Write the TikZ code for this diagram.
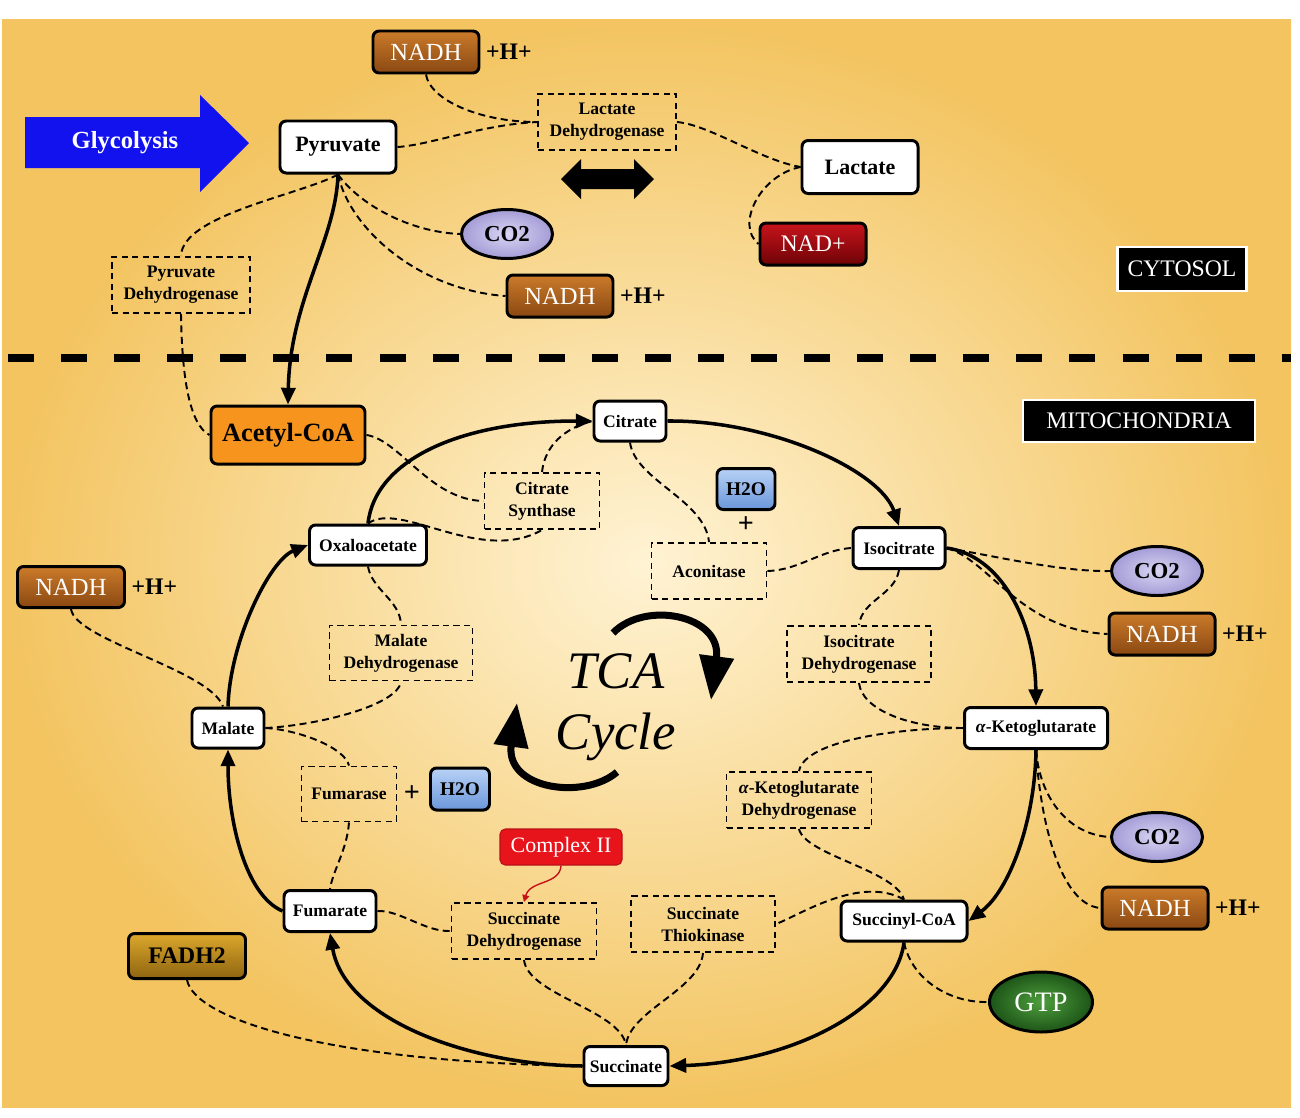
\documentclass[tikz,border=0pt]{standalone}
\usepackage{fontspec}
\setmainfont{Liberation Serif}
\usepackage{tikz}
\usetikzlibrary{shapes.geometric,arrows.meta,positioning}
\definecolor{bgin}{HTML}{FFF3D4}
\definecolor{bgout}{HTML}{F3C460}
\definecolor{glyblue}{HTML}{1212EE}
\definecolor{nadhtop}{HTML}{CB7B2A}
\definecolor{nadhbot}{HTML}{8A4812}
\definecolor{nadtop}{HTML}{C8141C}
\definecolor{nadbot}{HTML}{6E0306}
\definecolor{co2in}{HTML}{D9D5F3}
\definecolor{co2out}{HTML}{A49CD6}
\definecolor{h2otop}{HTML}{B8D2F6}
\definecolor{h2obot}{HTML}{6A96DA}
\definecolor{gtpin}{HTML}{4E9E3C}
\definecolor{gtpout}{HTML}{1D5518}
\definecolor{fadtop}{HTML}{DCA82C}
\definecolor{fadbot}{HTML}{8E6410}
\definecolor{acoafill}{HTML}{F7941D}
\definecolor{cplxred}{HTML}{E8141C}
\newlength\pxu \setlength\pxu{0.2mm}

\begin{document}
\begin{tikzpicture}[x=0.2mm,y=-0.2mm,
  sz/.style 2 args={minimum width=#1\pxu,minimum height=#2\pxu},
  met/.style={draw,line width=1.7pt,rounded corners=3.5pt,fill=white,inner sep=0pt,font=\bfseries\fontsize{10}{12}\selectfont},
  bigmet/.style={met,font=\bfseries\fontsize{12.5}{15}\selectfont},
  enz/.style={draw,line width=1.1pt,dash pattern=on 3.5pt off 2.5pt,inner sep=0pt,align=center,font=\bfseries\fontsize{10}{12.5}\selectfont},
  nadh/.style={draw,line width=1.7pt,rounded corners=3.5pt,top color=nadhtop,bottom color=nadhbot,text=white,inner sep=0pt,font=\fontsize{14}{16}\selectfont,sz={106}{42}},
  hplus/.style={inner sep=0pt,font=\bfseries\fontsize{13.5}{16}\selectfont},
  co2/.style={ellipse,draw,line width=1.7pt,inner color=co2in,outer color=co2out,inner sep=0pt,font=\bfseries\fontsize{13}{15}\selectfont,sz={91}{49}},
  water/.style={draw,line width=1.7pt,rounded corners=3.5pt,top color=h2otop,bottom color=h2obot,inner sep=0pt,font=\bfseries\fontsize{11}{13}\selectfont,sz={58}{41}},
  plus/.style={inner sep=0pt,font=\bfseries\fontsize{16}{18}\selectfont},
  region/.style={fill=black,draw=white,line width=1.2pt,text=white,inner sep=0pt,font=\fontsize{13.5}{16}\selectfont},
  link/.style={line width=1.1pt,dash pattern=on 4pt off 2.5pt},
  flow/.style={line width=2pt,-{Triangle[length=9.5pt,width=8pt]}},
  turn/.style={line width=4pt,-{Triangle[length=25pt,width=19pt]}}]
\useasboundingbox (0,0) rectangle (1300,1118);
\shade[inner color=bgin,outer color=bgout] (2,19) rectangle (1291,1107);

\fill[glyblue] (25,117) -- (200,117) -- (200,95) -- (249,143) -- (200,192) -- (200,168) -- (25,168) -- cycle;
\node[text=white,font=\bfseries\fontsize{14}{16}\selectfont] (glyc) at (125,143) {Glycolysis};
\fill (561,179) -- (581,159) -- (581,169) -- (634,169) -- (634,159) -- (654,179) -- (634,199) -- (634,189) -- (581,189) -- (581,199) -- cycle;
\draw[line width=4.5pt,dash pattern=on 14.8pt off 15.4pt] (8,358) -- (1291,358);

\node[nadh] (nadhA) at (426,52) {NADH}; \node[hplus,right=3pt of nadhA] (hA) {+H+};
\node[bigmet,sz={116}{52}] (pyr) at (338,147) {Pyruvate};
\node[enz,sz={138}{56}] (ldh) at (607,122) {Lactate\\Dehydrogenase};
\node[bigmet,sz={116}{53}] (lac) at (860,167) {Lactate};
\node[nadh,top color=nadtop,bottom color=nadbot,font=\fontsize{13.5}{16}\selectfont] (nadp) at (813,244) {NAD+};
\node[co2] (co2A) at (507,234) {CO2};
\node[nadh] (nadhB) at (560,296) {NADH}; \node[hplus,right=3pt of nadhB] (hB) {+H+};
\node[enz,sz={138}{56}] (pdh) at (181,285) {Pyruvate\\Dehydrogenase};
\node[region,sz={129}{44}] (cyto) at (1182,269) {CYTOSOL};

\node[met,fill=acoafill,font=\bfseries\fontsize{15}{18}\selectfont,sz={154}{58}] (acoa) at (288,435) {Acetyl-CoA};
\node[region,sz={232}{42}] (mito) at (1139,421) {MITOCHONDRIA};
\node[met,sz={72}{40}] (cit) at (630,421) {Citrate};
\node[enz,sz={115}{56}] (cs) at (542,501) {Citrate\\Synthase};
\node[met,sz={117}{40}] (oaa) at (368,545) {Oxaloacetate};
\node[nadh,sz={107}{41}] (nadhC) at (71,587) {NADH}; \node[hplus,right=3pt of nadhC] (hC) {+H+};
\node[enz,sz={143}{55}] (mdh) at (401,653) {Malate\\Dehydrogenase};
\node[met,sz={72}{40}] (mal) at (228,728) {Malate};
\node[water] (h2oA) at (746,489) {H2O}; \node[plus] (plusA) at (746,525) {+};
\node[enz,sz={115}{56}] (acon) at (709,571) {Aconitase};
\node[met,sz={92}{41}] (icit) at (899,548) {Isocitrate};
\node[co2] (co2B) at (1157,571) {CO2};
\node[nadh] (nadhD) at (1162,634) {NADH}; \node[hplus,right=3pt of nadhD] (hD) {+H+};
\node[enz,sz={144}{56}] (icdh) at (859,654) {Isocitrate\\Dehydrogenase};
\node[met,sz={143}{41}] (akg) at (1036,728) {\textit{α}-Ketoglutarate};
\node[align=center,font=\itshape\fontsize{30}{35}\selectfont] (tca) at (616,707) {TCA\\Cycle};
\node[enz,sz={145}{56}] (akgdh) at (799,800) {\textit{α}-Ketoglutarate\\Dehydrogenase};
\node[co2] (co2C) at (1157,837) {CO2};
\node[nadh] (nadhE) at (1155,908) {NADH}; \node[hplus,right=3pt of nadhE] (hE) {+H+};
\node[met,sz={126}{40}] (scoa) at (904,921) {Succinyl-CoA};
\node[enz,sz={144}{56}] (stk) at (703,924) {Succinate\\Thiokinase};
\node[ellipse,draw,line width=1.7pt,inner color=gtpin,outer color=gtpout,text=white,inner sep=0pt,font=\fontsize{16}{18}\selectfont,sz={103}{60}] (gtp) at (1041,1002) {GTP};
\node[met,sz={84}{39}] (suc) at (626,1066) {Succinate};
\node[enz,sz={145}{56}] (sdh) at (524,931) {Succinate\\Dehydrogenase};
\node[fill=cplxred,draw=cplxred!80!black,line width=0.6pt,rounded corners=3pt,text=white,inner sep=0pt,font=\fontsize{12.5}{15}\selectfont,sz={122}{36}] (cmplx) at (561,847) {Complex II};
\node[met,sz={92}{41}] (fum) at (330,911) {Fumarate};
\node[enz,sz={95}{55}] (fumase) at (349,794) {Fumarase}; \node[plus] (plusB) at (412,794) {+};
\node[water,sz={59}{42}] (h2oB) at (460,789) {H2O};
\node[nadh,top color=fadtop,bottom color=fadbot,text=black,font=\bfseries\fontsize{13.5}{16}\selectfont,sz={117}{45}] (fadh) at (187,956) {FADH2};

\draw[link] (nadhA.south) .. controls (430,100) and (480,122) .. (ldh.west);
\draw[link] (pyr.east) .. controls (430,145) and (480,125) .. (ldh.west);
\draw[link] (ldh.east) .. controls (710,125) and (760,160) .. (lac.west);
\draw[link] (lac.west) .. controls (760,175) and (735,225) .. (nadp.west);
\draw[link] (pyr.south) .. controls (300,195) and (182,215) .. (pdh.north);
\draw[link] (pyr.south) .. controls (360,205) and (410,232) .. (co2A.west);
\draw[link] (pyr.south) .. controls (350,230) and (420,290) .. (nadhB.west);
\draw[link] (pdh.south) .. controls (182,380) and (190,425) .. (acoa.west);
\draw[flow] (pyr.south) .. controls (336,240) and (290,300) .. (acoa.north);

\draw[link] (acoa.east) .. controls (400,440) and (430,500) .. (cs.west);
\draw[link] (oaa.north) .. controls (400,500) and (480,565) .. (cs.south);
\draw[link] (cs.north) .. controls (545,445) and (565,428) .. (cit.west);
\draw[link] (cit.south) .. controls (635,480) and (705,500) .. (acon.north);
\draw[link] (acon.east) .. controls (800,570) and (820,550) .. (icit.west);
\draw[link] (icit.south) .. controls (895,595) and (862,600) .. (icdh.north);
\draw[link] (icit.east) .. controls (990,555) and (1060,572) .. (co2B.west);
\draw[link] (icit.east) .. controls (990,560) and (1020,630) .. (nadhD.west);
\draw[link] (icdh.south) .. controls (862,710) and (910,728) .. (akg.west);
\draw[link] (akg.west) .. controls (900,728) and (805,740) .. (akgdh.north);
\draw[link] (akg.south) .. controls (1040,800) and (1070,835) .. (co2C.west);
\draw[link] (akg.south) .. controls (1040,820) and (1060,905) .. (nadhE.west);
\draw[link] (akgdh.south) .. controls (805,855) and (895,870) .. (scoa.north);
\draw[link] (scoa.north) .. controls (860,875) and (800,915) .. (stk.east);
\draw[link] (scoa.south) .. controls (912,980) and (950,1003) .. (gtp.west);
\draw[link] (stk.south) .. controls (700,990) and (630,1010) .. (suc.north);
\draw[link] (sdh.south) .. controls (528,995) and (620,1010) .. (suc.north);
\draw[link] (fum.east) .. controls (400,910) and (425,932) .. (sdh.west);
\draw[link] (fadh.south) .. controls (195,1020) and (330,1062) .. (suc.west);
\draw[link] (fumase.south) .. controls (347,850) and (333,870) .. (fum.north);
\draw[link] (mal.east) .. controls (300,730) and (345,748) .. (fumase.north);
\draw[link] (mal.east) .. controls (320,725) and (398,705) .. (mdh.south);
\draw[link] (oaa.south) .. controls (372,590) and (400,600) .. (mdh.north);
\draw[link] (nadhC.south) .. controls (75,640) and (210,670) .. ([xshift=-5\pxu]mal.north);

\draw[flow] (oaa.north) .. controls (375,460) and (460,421) .. (cit.west);
\draw[flow] (cit.east) .. controls (770,420) and (880,470) .. (icit.north);
\draw[flow] (icit.east) .. controls (1000,555) and (1035,620) .. (akg.north);
\draw[flow] (akg.south) .. controls (1035,820) and (1010,890) .. (scoa.east);
\draw[flow] (scoa.south) .. controls (895,1010) and (790,1062) .. (suc.east);
\draw[flow] (suc.west) .. controls (470,1065) and (345,1020) .. (fum.south);
\draw[flow] (fum.west) .. controls (245,895) and (228,820) .. (mal.south);
\draw[flow] (mal.north) .. controls (230,640) and (270,560) .. (oaa.west);
\draw[cplxred!85!black,line width=0.8pt,-{Triangle[length=4pt,width=4pt]}] (cmplx.south) .. controls (560,885) and (530,880) .. (sdh.north);

\draw[turn] (613,633) .. controls (645,600) and (722,615) .. (711,700);
\draw[turn] (617,772) .. controls (585,800) and (505,790) .. (517,703);
\end{tikzpicture}
\end{document}
